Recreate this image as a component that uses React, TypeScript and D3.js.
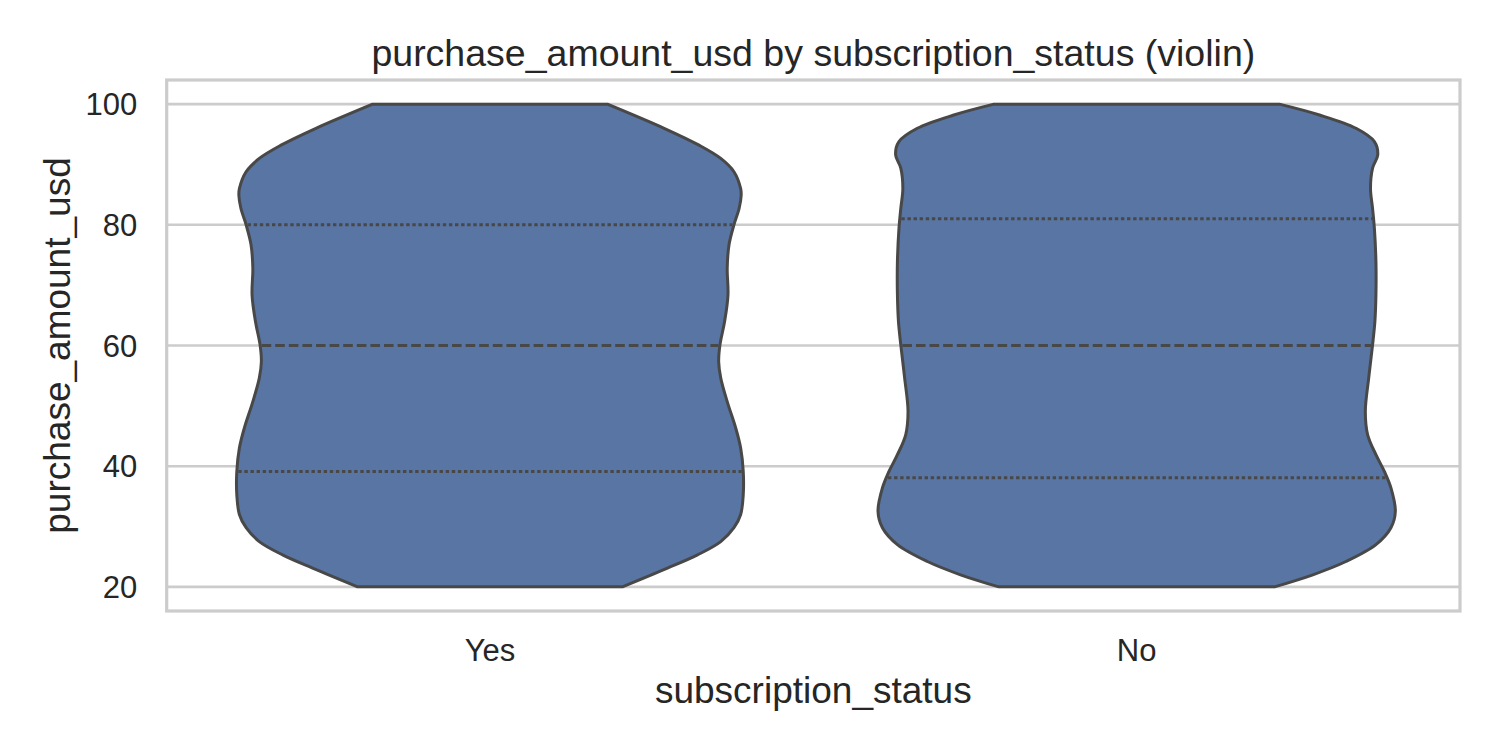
import * as d3 from "d3";

const categories = ["Yes", "No"];

// density profile (amount in usd, relative density)
const yesAmount = [20, 23.1, 25.3, 27.5, 29.8, 32.0, 35.3, 39.1, 43.0, 46.3, 50.7, 54.6, 57.3, 60.1, 64.0, 68.4, 72.8, 76.7, 80.0, 82.7, 84.9, 86.0, 88.8, 91.0, 93.2, 96.0, 100];
const yesDensity = [0.512, 0.686, 0.802, 0.892, 0.943, 0.969, 0.979, 0.979, 0.969, 0.95, 0.917, 0.892, 0.884, 0.889, 0.907, 0.92, 0.917, 0.924, 0.943, 0.963, 0.971, 0.969, 0.943, 0.892, 0.808, 0.673, 0.454];
const noAmount = [20, 22.0, 24.2, 27.0, 29.8, 32.5, 36.4, 39.1, 41.9, 45.2, 49.1, 54.6, 60.1, 64.0, 68.4, 73.9, 79.4, 82.7, 86.0, 89.4, 91.6, 93.8, 96.0, 98.2, 100];
const noDensity = [0.533, 0.681, 0.809, 0.925, 0.983, 1.0, 0.983, 0.958, 0.925, 0.893, 0.884, 0.897, 0.912, 0.921, 0.925, 0.925, 0.919, 0.912, 0.904, 0.912, 0.932, 0.919, 0.848, 0.707, 0.552];

// q1, median, q3
const yesQuartiles = [39.1, 60.0, 80.0];
const noQuartiles = [38.1, 60.0, 81.0];

const yTicks = [20, 40, 60, 80, 100];

const W = 1500;
const H = 750;
const margin = { top: 80, right: 40, bottom: 139, left: 166.7 };
const FONT = "'Liberation Sans', Arial, Helvetica, sans-serif";
const TEXT = "#262626";
const GRID = "#cccccc";
const FILL = "#5875a4";
const LINE = "#484848";

const series = [
  { name: categories[0], amount: yesAmount, density: yesDensity, quartiles: yesQuartiles },
  { name: categories[1], amount: noAmount, density: noDensity, quartiles: noQuartiles },
];

export default function App() {
  const innerW = W - margin.left - margin.right;
  const innerH = H - margin.top - margin.bottom;

  const x = d3.scaleBand().domain(categories).range([0, innerW]).padding(0);
  const y = d3.scaleLinear().domain([16, 104]).range([innerH, 0]);

  const maxDensity = d3.max(series, (s) => d3.max(s.density)) as number;
  const halfWidth = d3.scaleLinear().domain([0, maxDensity]).range([0, x.bandwidth() * 0.4]);

  return (
    <svg
      width={W}
      height={H}
      style={{ position: "absolute", left: 0, top: 0, background: "#fff" }}
      fontFamily={FONT}
    >
      <text x={margin.left + innerW / 2} y={66} textAnchor="middle" fontSize={37.5} fill={TEXT}>
        purchase_amount_usd by subscription_status (violin)
      </text>

      <g transform={`translate(${margin.left},${margin.top})`}>
        {yTicks.map((t) => (
          <g key={t}>
            <line x1={0} x2={innerW} y1={y(t)} y2={y(t)} stroke={GRID} strokeWidth={2.6} />
            <text x={-29.5} y={y(t) + 11} textAnchor="end" fontSize={31} fill={TEXT}>
              {t}
            </text>
          </g>
        ))}

        {series.map((s) => {
          const cx = (x(s.name) as number) + x.bandwidth() / 2;
          const pts = s.amount.map((a, i) => ({ a, d: s.density[i] }));
          const area = d3
            .area<{ a: number; d: number }>()
            .y((p) => y(p.a))
            .x0((p) => cx - halfWidth(p.d))
            .x1((p) => cx + halfWidth(p.d))
            .curve(d3.curveCatmullRom);
          const densityAt = d3.scaleLinear().domain(s.amount).range(s.density);
          return (
            <g key={s.name}>
              <path d={area(pts) || ""} fill={FILL} stroke={LINE} strokeWidth={3} strokeLinejoin="round" />
              {s.quartiles.map((q, i) => {
                const hw = halfWidth(densityAt(q)) - 1.5;
                return (
                  <line
                    key={i}
                    x1={cx - hw}
                    x2={cx + hw}
                    y1={y(q)}
                    y2={y(q)}
                    stroke={LINE}
                    strokeWidth={3}
                    strokeDasharray={i === 1 ? "9.6,4" : "3.4,2.7"}
                  />
                );
              })}
              <text x={cx} y={660.7 - margin.top} textAnchor="middle" fontSize={31} fill={TEXT}>
                {s.name}
              </text>
            </g>
          );
        })}

        <rect x={0} y={0} width={innerW} height={innerH} fill="none" stroke={GRID} strokeWidth={3.2} />
      </g>

      <text x={margin.left + innerW / 2} y={702.7} textAnchor="middle" fontSize={37} fill={TEXT}>
        subscription_status
      </text>
      <text
        transform={`translate(70,${margin.top + innerH / 2}) rotate(-90)`}
        textAnchor="middle"
        fontSize={37}
        fill={TEXT}
      >
        purchase_amount_usd
      </text>
    </svg>
  );
}
